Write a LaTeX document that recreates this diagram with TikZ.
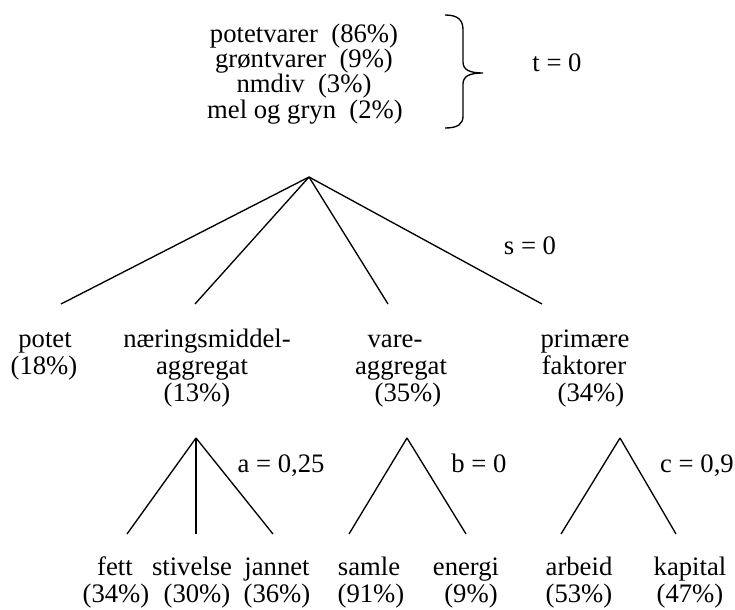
\documentclass[tikz,border=0pt]{standalone}
\usepackage{fontspec}
\setmainfont{Liberation Serif}
\begin{document}
\begin{tikzpicture}[x=0.75pt,y=-0.75pt,
  txt/.style={inner sep=0pt,anchor=base,font=\fontsize{20}{24}\selectfont},
  branch/.style={line width=1pt}]
\useasboundingbox (0,0) rectangle (735,610);

% top group of goods and its brace
\node[txt] (g1) at (304,43) {potetvarer\ \ (86\%)};
\node[txt] (g2) at (304,68) {grøntvarer\ \ (9\%)};
\node[txt] (g3) at (304,93) {nmdiv\ \ (3\%)};
\node[txt] (g4) at (305,118) {mel og gryn\ \ (2\%)};
\draw[branch] (445,15) .. controls (458,15) and (463,20) .. (463,30) -- (463,62)
  .. controls (463,70) and (470,73) .. (483,73)
  .. controls (470,73) and (463,76) .. (463,84) -- (463,116)
  .. controls (463,124) and (458,128) .. (445,128);
\node[txt] (t) at (557,72) {t = 0};

% upper level
\coordinate (top) at (309,177);
\coordinate (e1) at (61,304);
\coordinate (e2) at (195,304);
\coordinate (e3) at (388,304);
\coordinate (e4) at (542,304);
\foreach \e in {e1,e2,e3,e4} \draw[branch] (top) -- (\e);
\node[txt] (s) at (530,254) {s = 0};

\node[txt] (p1) at (45,347) {potet};
\node[txt] (p2) at (44,374) {(18\%)};
\node[txt] (n1) at (207,347) {næringsmiddel-};
\node[txt] (n2) at (202,374) {aggregat};
\node[txt] (n3) at (197,401) {(13\%)};
\node[txt] (v1) at (395,347) {vare-};
\node[txt] (v2) at (401,374) {aggregat};
\node[txt] (v3) at (408,401) {(35\%)};
\node[txt] (f1) at (585,347) {primære};
\node[txt] (f2) at (584,374) {faktorer};
\node[txt] (f3) at (591,401) {(34\%)};

% lower level
\coordinate (ta) at (196,438);
\coordinate (a1) at (127,534);
\coordinate (a2) at (196,534);
\coordinate (a3) at (273,534);
\coordinate (tb) at (407,438);
\coordinate (b1) at (349,534);
\coordinate (b2) at (466,534);
\coordinate (tc) at (620,438);
\coordinate (c1) at (561,534);
\coordinate (c2) at (676,534);
\foreach \e in {a1,a2,a3} \draw[branch] (ta) -- (\e);
\foreach \e in {b1,b2} \draw[branch] (tb) -- (\e);
\foreach \e in {c1,c2} \draw[branch] (tc) -- (\e);
\node[txt] (la) at (281,472) {a = 0,25};
\node[txt] (lb) at (479,472) {b = 0};
\node[txt] (lc) at (697,472) {c = 0,9};

\node[txt] (x1) at (115,575) {fett};
\node[txt] (x2) at (116,602) {(34\%)};
\node[txt] (y1) at (192,575) {stivelse};
\node[txt] (y2) at (197,602) {(30\%)};
\node[txt] (z1) at (277,575) {jannet};
\node[txt] (z2) at (277,602) {(36\%)};
\node[txt] (sa1) at (369,575) {samle};
\node[txt] (sa2) at (371,602) {(91\%)};
\node[txt] (en1) at (466,575) {energi};
\node[txt] (en2) at (471,602) {(9\%)};
\node[txt] (ar1) at (579,575) {arbeid};
\node[txt] (ar2) at (579,602) {(53\%)};
\node[txt] (ka1) at (690,575) {kapital};
\node[txt] (ka2) at (690,602) {(47\%)};
\end{tikzpicture}
\end{document}
